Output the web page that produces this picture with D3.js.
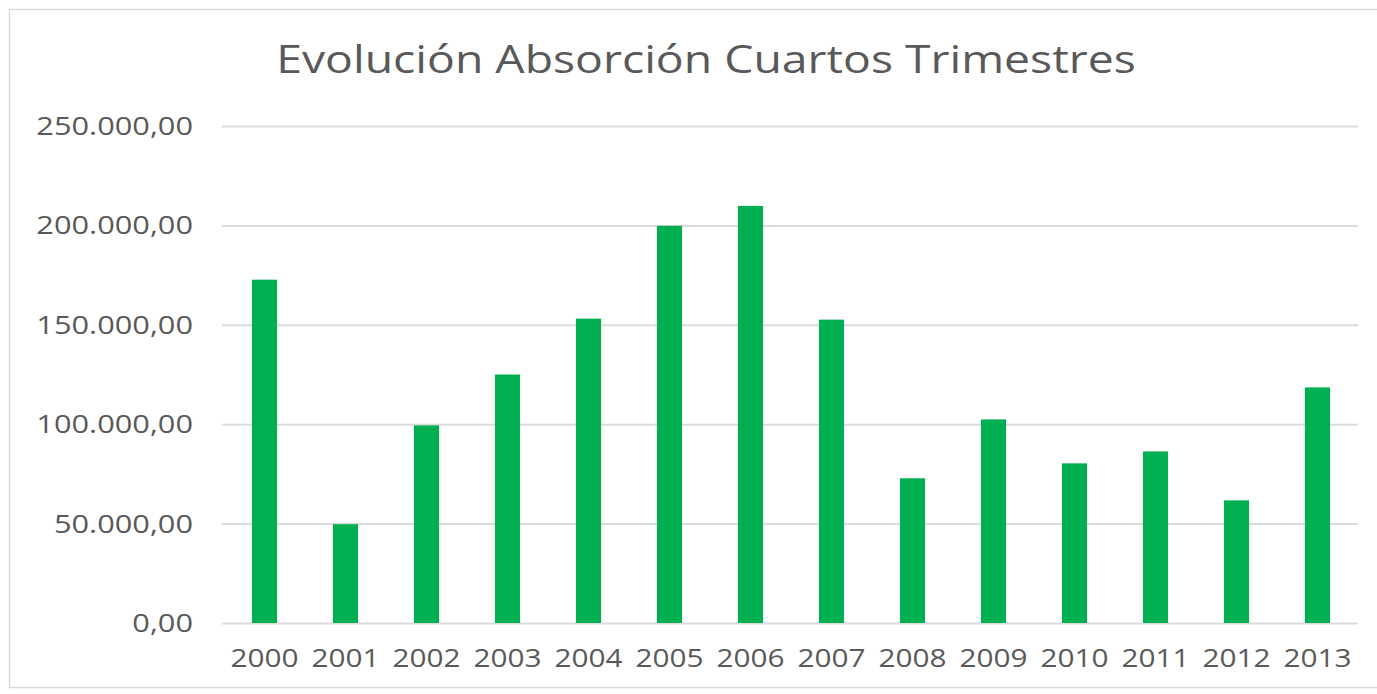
<!DOCTYPE html>
<html>
<head>
<meta charset="utf-8">
<script src="https://cdn.jsdelivr.net/npm/d3@7/dist/d3.min.js"></script>
<style>
  html, body { margin: 0; padding: 0; background: #ffffff; }
  svg { display: block; }
  text { font-family: "Open Sans", sans-serif; fill: #595959; }
</style>
</head>
<body>
<svg id="chart" width="1377" height="694"></svg>
<script>
// Fourth-quarter absorption by year
const years = ["2000","2001","2002","2003","2004","2005","2006","2007","2008","2009","2010","2011","2012","2013"];
const absorption = [172700, 49700, 99400, 125000, 153100, 199800, 209800, 152600, 72800, 102400, 80300, 86300, 61700, 118500];
const yTicks = [0, 50000, 100000, 150000, 200000, 250000];
const chartTitle = "Evolución Absorción Cuartos Trimestres";

const W = 1377, H = 694;
const margin = { left: 224, right: 19, top: 126, bottom: 71 };
const svg = d3.select("#chart");

// chart frame
svg.append("rect")
  .attr("x", 9.5).attr("y", 9.5)
  .attr("width", W + 20).attr("height", 678)
  .attr("fill", "#ffffff")
  .attr("stroke", "#d9d9d9").attr("stroke-width", 1.5);

const x = d3.scaleBand()
  .domain(years)
  .range([margin.left, W - margin.right])
  .paddingInner(0.69).paddingOuter(0.345);

const y = d3.scaleLinear()
  .domain([0, 250000])
  .range([H - margin.bottom, margin.top]);

// number formatting in Spanish style: 250.000,00
const fmt = d3.formatLocale({ decimal: ",", thousands: ".", grouping: [3], currency: ["", "€"] }).format(",.2f");

// horizontal grid lines and value labels
const yAxis = d3.axisLeft(y).tickValues(yTicks).tickSize(-(W - margin.right - margin.left + 2)).tickFormat(fmt).tickPadding(29);
const gy = svg.append("g").attr("transform", `translate(${margin.left - 2},0)`).call(yAxis);
gy.select(".domain").remove();
gy.selectAll(".tick line").attr("stroke", "#dcdcdc").attr("stroke-width", 2);
gy.selectAll(".tick text")
  .attr("font-size", 25)
  .attr("fill", "#595959")
  .attr("dy", "0.34em")
  .each(function () {
    const t = d3.select(this);
    const tx = +t.attr("x");
    t.attr("transform", `translate(${tx},0) scale(1.23,1) translate(${-tx},0)`);
  });

// bars
svg.append("g").selectAll("rect")
  .data(years.map((yr, i) => ({ yr, v: absorption[i] })))
  .join("rect")
  .attr("x", d => x(d.yr))
  .attr("width", x.bandwidth())
  .attr("y", d => y(d.v))
  .attr("height", d => y(0) - y(d.v))
  .attr("fill", "#00b050");

// category labels
const xAxis = d3.axisBottom(x).tickSize(0).tickPadding(26);
const gx = svg.append("g").attr("transform", `translate(0,${y(0)})`).call(xAxis);
gx.select(".domain").remove();
gx.selectAll(".tick text")
  .attr("font-size", 25)
  .attr("fill", "#595959")
  .attr("transform", "scale(1.19,1)");

// title
svg.append("text")
  .attr("x", 0).attr("y", 0)
  .attr("text-anchor", "middle")
  .attr("font-size", 38)
  .attr("transform", "translate(706,73) scale(1.22,1)")
  .text(chartTitle);
</script>
</body>
</html>
